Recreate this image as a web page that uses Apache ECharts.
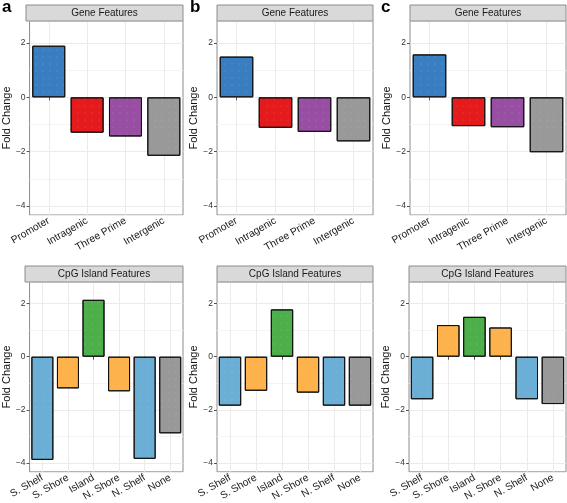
<!DOCTYPE html>
<html>
<head>
<meta charset="utf-8">
<script src="https://cdn.jsdelivr.net/npm/echarts@6/dist/echarts.min.js"></script>
<style>html,body{margin:0;padding:0;background:#fff}#c{width:567px;height:503px}</style>
</head>
<body>
<div id="c"></div>
<script>
// ---- data ----
const geneCats = ['Promoter', 'Intragenic', 'Three Prime', 'Intergenic'];
const cpgCats = ['S. Shelf', 'S. Shore', 'Island', 'N. Shore', 'N. Shelf', 'None'];
const geneA = [1.90, -1.30, -1.44, -2.15];
const geneB = [1.50, -1.12, -1.27, -1.62];
const geneC = [1.58, -1.06, -1.10, -2.02];
const cpgA = [-3.88, -1.19, 2.14, -1.30, -3.84, -2.88];
const cpgB = [-1.84, -1.28, 1.78, -1.35, -1.84, -1.84];
const cpgC = [-1.60, 1.19, 1.50, 1.10, -1.60, -1.78];
const geneColors = ['#3a7ec2', '#e41a1c', '#984ea3', '#999999'];
const cpgColors = ['#6baed6', '#fdb24c', '#4daf4a', '#fdb24c', '#6baed6', '#999999'];
const panelLetters = ['a', 'b', 'c'];
const stripGene = 'Gene Features';
const stripCpG = 'CpG Island Features';
const yMin = -4.33, yMax = 2.81;

const FONT = 'Liberation Sans, Arial, sans-serif';
const panels = [
  {cats: geneCats, vals: geneA, colors: geneColors, left: 26, top: 21, width: 157, height: 194, strip: stripGene},
  {cats: geneCats, vals: geneB, colors: geneColors, left: 217, top: 21, width: 156, height: 194, strip: stripGene},
  {cats: geneCats, vals: geneC, colors: geneColors, left: 410, top: 21, width: 156, height: 194, strip: stripGene},
  {cats: cpgCats, vals: cpgA, colors: cpgColors, left: 25, top: 282, width: 158, height: 193, strip: stripCpG},
  {cats: cpgCats, vals: cpgB, colors: cpgColors, left: 217, top: 282, width: 156, height: 193, strip: stripCpG},
  {cats: cpgCats, vals: cpgC, colors: cpgColors, left: 409, top: 282, width: 157, height: 193, strip: stripCpG}
];
const STRIP_H = 16;
const grids = [], xAxes = [], yAxes = [], series = [], graphics = [];
const fmtY = v => {
  if (Math.abs(v - Math.round(v)) > 1e-6) return '';
  const r = Math.round(v);
  if (r % 2 !== 0) return '';
  return r < 0 ? '\u2212' + (-r) : String(r);
};
panels.forEach((p, i) => {
  grids.push({left: p.left, top: p.top, width: p.width, height: p.height,
    show: true, backgroundColor: '#fff', borderColor: '#8c8c8c', borderWidth: 1, containLabel: false});
  xAxes.push({type: 'category', gridIndex: i, data: p.cats,
    axisLine: {show: false},
    axisTick: {show: true, alignWithLabel: true, length: 3, lineStyle: {color: '#555'}},
    splitLine: {show: true, alignWithLabel: true, lineStyle: {color: '#ebebeb', width: 1}},
    axisLabel: {rotate: 30, fontSize: 10.3, color: '#222', fontFamily: FONT, margin: 5, interval: 0}
  });
  yAxes.push({type: 'value', gridIndex: i, min: yMin, max: yMax, minInterval: 2, maxInterval: 2,
    axisLine: {show: false},
    axisTick: {show: true, length: 3, lineStyle: {color: '#555'}},
    splitLine: {show: true, lineStyle: {color: '#ebebeb', width: 1}},
    minorTick: {show: false, splitNumber: 2},
    minorSplitLine: {show: true, lineStyle: {color: '#f4f4f4', width: 1}},
    axisLabel: {fontSize: 8.5, color: '#333', fontFamily: FONT, margin: 4, formatter: fmtY,
      showMinLabel: false, showMaxLabel: false},
    name: 'Fold Change', nameLocation: 'middle', nameGap: 15,
    nameTextStyle: {fontSize: 11, color: '#111', fontFamily: FONT}
  });
  series.push({type: 'bar', xAxisIndex: i, yAxisIndex: i, barWidth: '86%',
    data: p.vals.map((v, k) => ({value: v, itemStyle: {color: p.colors[k]}})),
    itemStyle: {borderColor: '#111', borderWidth: 1,
      decal: {symbol: 'circle', symbolSize: 0.5, color: 'rgba(255,255,255,0.3)', dashArrayX: [2, 5], dashArrayY: [2, 5]}},
    emphasis: {disabled: true}, animation: false
  });
  graphics.push({type: 'rect', shape: {x: p.left, y: p.top - STRIP_H, width: p.width, height: STRIP_H},
    style: {fill: '#d9d9d9', stroke: '#8c8c8c', lineWidth: 1}, z: 10});
  graphics.push({type: 'text', x: p.left + p.width / 2, y: p.top - STRIP_H / 2,
    style: {text: p.strip, fill: '#1a1a1a', font: '10px ' + FONT, textAlign: 'center', textVerticalAlign: 'middle'}, z: 11});
});
[[2, -1], [190, -1], [381, -1]].forEach((pos, k) => {
  graphics.push({type: 'text', x: pos[0], y: pos[1],
    style: {text: panelLetters[k], fill: '#000', font: 'bold 17px ' + FONT, textAlign: 'left', textVerticalAlign: 'top'}, z: 12});
});
const chart = echarts.init(document.getElementById('c'), null, {renderer: 'canvas'});
chart.setOption({animation: false, grid: grids, xAxis: xAxes, yAxis: yAxes, series: series, graphic: graphics});
</script>
</body>
</html>
